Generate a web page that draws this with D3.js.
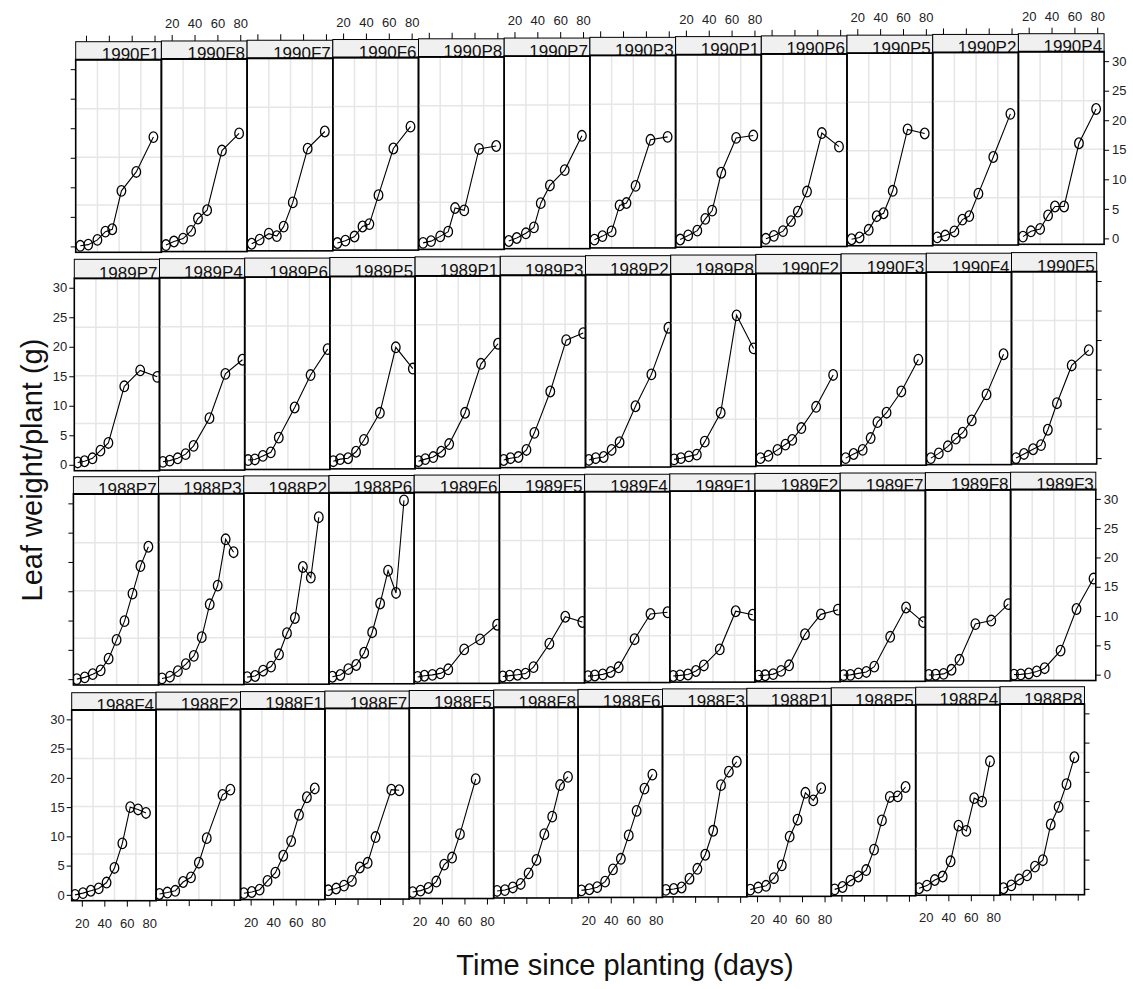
<!DOCTYPE html>
<html>
<head>
<meta charset="utf-8">
<script src="https://cdn.jsdelivr.net/npm/d3@7"></script>
<style>
  body { margin: 0; background: #fff; }
  svg { display: block; font-family: "Liberation Sans", Arial, sans-serif; }
</style>
</head>
<body>
<script>
// plots in display order, top row first
var plots = [
  "1990F1","1990F8","1990F7","1990F6","1990P8","1990P7","1990P3","1990P1","1990P6","1990P5","1990P2","1990P4",
  "1989P7","1989P4","1989P6","1989P5","1989P1","1989P3","1989P2","1989P8","1990F2","1990F3","1990F4","1990F5",
  "1988P7","1988P3","1988P2","1988P6","1989F6","1989F5","1989F4","1989F1","1989F2","1989F7","1989F8","1989F3",
  "1988F4","1988F2","1988F1","1988F7","1988F5","1988F8","1988F6","1988F3","1988P1","1988P5","1988P4","1988P8"
];

var times1988 = [14, 21, 28, 35, 42, 49, 56, 63, 70, 77];
var times1989 = [14, 20, 27, 34, 41, 55, 69, 84];
var times1990 = [15, 22, 30, 37, 43, 51, 64, 79];

// leaf weight/plant (g), one list per plot, same order as plots (null = not sampled)
var leafWeight = [
  [0.1, 0.3, 1.1, 2.5, 2.9, 9.4, 12.6, 18.5],
  [0.1, 0.7, 1.2, 2.5, 4.6, 6.0, 16.1, 19.0],
  [0.2, 0.9, 1.9, 1.5, 3.1, 7.2, 16.3, 19.2],
  [0.2, 0.6, 1.3, 3.0, 3.4, 8.3, 16.2, 19.9],
  [0.1, 0.4, 1.2, 2.0, 6.0, 5.6, 16.0, 16.5],
  [0.3, 0.8, 1.6, 2.6, 6.7, 9.7, 12.3, 18.1],
  [0.4, 1.0, 1.8, 6.2, 6.6, 9.5, 17.3, 17.8],
  [0.3, 1.0, 1.8, 3.8, 5.2, 11.6, 17.5, 17.9],
  [0.3, 0.8, 1.6, 3.3, 4.9, 8.3, 18.2, 15.9],
  [0.1, 0.4, 1.7, 4.0, 4.5, 8.3, 18.7, 18.0],
  [0.3, 0.6, 1.3, 3.3, 3.9, 7.7, 13.9, 21.2],
  [0.3, 1.2, 1.6, 3.9, 5.4, 5.4, 16.1, 21.9],

  [0.4, 0.6, 1.1, 2.4, 3.7, 13.3, 16.0, 14.9],
  [0.4, 0.6, 1.0, 1.7, 3.1, 7.8, 15.3, 17.7],
  [0.6, 0.7, 1.3, 1.9, 4.4, 9.5, 15.0, 19.4],
  [0.3, 0.65, 0.8, 1.9, 3.9, 8.5, 19.6, 16.0],
  [0.2, 0.55, 0.9, 1.8, 3.1, 8.4, 16.7, 20.1],
  [0.3, 0.6, 0.8, 2.0, 4.9, 11.9, 20.6, 21.8],
  [0.2, 0.5, 0.7, 1.9, 3.2, 9.3, 14.7, 22.6],
  [0.2, 0.4, 0.7, 1.0, 3.2, 8.1, 24.6, 19.0],
  [0.3, 0.7, 1.7, 2.6, 3.4, 5.4, 9.0, 14.4],
  [0.2, 0.9, 1.6, 3.6, 6.3, 7.9, 11.5, 16.9],
  [0.1, 0.9, 2.1, 3.4, 4.4, 6.5, 10.9, 17.7],
  [0.0, 0.7, 1.5, 2.2, 4.8, 9.3, 15.7, 18.3],

  [0.0, 0.3, 0.85, 1.5, 3.5, 6.7, 9.9, 14.6, 19.3, 22.6],
  [0.05, 0.35, 1.3, 2.5, 3.9, 7.1, 12.7, 15.9, 23.8, 21.6],
  [0.2, 0.4, 1.3, 2.0, 4.1, 7.7, 10.3, 19.0, 17.2, 27.5],
  [0.2, 0.5, 1.5, 2.2, 4.3, 7.8, 12.7, 18.3, 14.5, 30.3],
  [0.1, 0.3, 0.45, 0.7, 1.4, 4.8, 6.5, 9.0],
  [0.1, 0.25, 0.4, 0.6, 1.7, 5.7, 10.3, 9.4],
  [0.1, 0.2, 0.4, 0.8, 1.6, 6.4, 10.7, 11.0],
  [0.05, 0.15, 0.3, 0.9, 1.85, 4.6, 11.1, 10.5],
  [0.05, 0.1, 0.3, 0.85, 1.8, 7.1, 10.5, 11.3],
  [0.05, 0.1, 0.35, 0.6, 1.5, 6.6, 11.6, 9.1],
  [0.02, 0.05, 0.2, 0.9, 2.6, 8.7, 9.3, 12.1],
  [0.0, 0.05, 0.2, 0.55, 1.1, 4.1, 11.2, 16.4],

  [0.0, 0.3, 0.7, 1.1, 2.1, 4.6, 8.8, 15.0, 14.6, 14.0],
  [0.05, 0.3, 0.6, 2.1, 2.9, 5.4, 9.6, null, 17.0, 17.9],
  [0.1, 0.3, 0.7, 2.2, 3.6, 6.5, 9.0, 13.5, 16.5, 18.0],
  [0.5, 0.8, 1.3, 2.1, 4.4, 5.2, 9.6, null, 17.7, 17.6],
  [0.1, 0.35, 0.8, 1.9, 4.8, 6.0, 10.0, null, 19.4, null],
  [0.2, 0.35, 0.8, 1.4, 3.2, 5.5, 9.9, 12.9, 18.3, 19.7],
  [0.2, 0.4, 0.75, 1.7, 3.8, 5.6, 9.6, 13.8, 17.6, 20.0],
  [0.2, 0.35, 0.6, 2.1, 3.8, 6.2, 10.3, 18.1, 20.4, 22.1],
  [0.15, 0.5, 0.8, 2.1, 4.3, 9.2, 12.1, 16.7, 15.4, 17.5],
  [0.1, 0.5, 1.6, 2.3, 3.4, 6.9, 11.9, 15.9, 16.0, 17.6],
  [0.2, 0.65, 1.6, 2.2, 4.8, 10.9, 10.0, 15.6, 15.0, 21.9],
  [0.1, 0.6, 1.6, 2.3, 3.8, 4.9, 11.0, 14.0, 17.9, 22.5]
];

var xTicks = [20, 40, 60, 80];
var yTicks = [0, 5, 10, 15, 20, 25, 30];
var xGrid = [30, 49, 68];
var yGrid = [7, 15.1, 23.3];

var width = 1133, height = 989, ncol = 12;

// each row of panels drifts a little, so keep its own geometry
var rows = [
  {left: 75.7, pw: 85.7, stripTop: 41.7, plotTop: 59.7, plotBottom: 252.3, tilt: -8},
  {left: 74.3, pw: 85.2, stripTop: 259.3, plotTop: 278.3, plotBottom: 470.7, tilt: -6.7},
  {left: 73.4, pw: 85.2, stripTop: 476.7, plotTop: 494, plotBottom: 685, tilt: -4.5},
  {left: 71.7, pw: 84.4, stripTop: 692.7, plotTop: 710, plotBottom: 900.7, tilt: -6}
];

var x = d3.scaleLinear().domain([11, 86]);
var y = d3.scaleLinear().domain([-1, 31.6]);

var svg = d3.select("body").append("svg")
    .attr("width", width)
    .attr("height", height);

function styleAxis(g) {
  g.select(".domain").remove();
  g.attr("font-size", 13).attr("font-family", null);
  g.selectAll("line").attr("stroke", "#000").attr("stroke-width", 1);
  g.selectAll("text").attr("fill", "#222");
}

plots.forEach(function(name, k) {
  var r = Math.floor(k / ncol), c = k % ncol, geo = rows[r];
  var dy = geo.tilt * c / (ncol - 1);
  var x0 = geo.left + c * geo.pw, x1 = x0 + geo.pw;
  var top = geo.plotTop + dy, bottom = geo.plotBottom + dy, sTop = geo.stripTop + dy;

  var xs = x.copy().range([x0, x1]);
  var ys = y.copy().range([bottom, top]);

  var year = name.slice(0, 4);
  var times = year === "1988" ? times1988 : (year === "1989" ? times1989 : times1990);
  var pts = times.map(function(t, i) { return {t: t, w: leafWeight[k][i]}; })
                 .filter(function(d) { return d.w != null; });

  var panel = svg.append("g").attr("class", "panel");

  svg.append("clipPath").attr("id", "clip" + k)
    .append("rect").attr("x", x0).attr("y", top).attr("width", x1 - x0).attr("height", bottom - top);
  svg.append("clipPath").attr("id", "sclip" + k)
    .append("rect").attr("x", x0).attr("y", sTop).attr("width", x1 - x0).attr("height", top - sTop);

  var inner = panel.append("g").attr("clip-path", "url(#clip" + k + ")");

  inner.selectAll(".vg").data(xGrid).enter().append("line")
      .attr("x1", xs).attr("x2", xs).attr("y1", top).attr("y2", bottom)
      .attr("stroke", "#e6e6e6").attr("stroke-width", 1.5);
  inner.selectAll(".hg").data(yGrid).enter().append("line")
      .attr("y1", ys).attr("y2", ys).attr("x1", x0).attr("x2", x1)
      .attr("stroke", "#e6e6e6").attr("stroke-width", 1.5);

  var line = d3.line().x(function(d) { return xs(d.t); }).y(function(d) { return ys(d.w); });
  inner.append("path").datum(pts)
      .attr("d", line)
      .attr("fill", "none").attr("stroke", "#000").attr("stroke-width", 1.1);

  inner.selectAll("ellipse").data(pts).enter().append("ellipse")
      .attr("cx", function(d) { return xs(d.t); })
      .attr("cy", function(d) { return ys(d.w); })
      .attr("rx", 4.3).attr("ry", 5.3)
      .attr("fill", "none").attr("stroke", "#000").attr("stroke-width", 1.3);

  panel.append("rect")
      .attr("x", x0).attr("y", top).attr("width", x1 - x0).attr("height", bottom - top)
      .attr("fill", "none").attr("stroke", "#000").attr("stroke-width", 1.6);

  // strip
  panel.append("rect")
      .attr("x", x0).attr("y", sTop).attr("width", x1 - x0).attr("height", top - sTop)
      .attr("fill", "#f0f0f0").attr("stroke", "#000").attr("stroke-width", 1);
  panel.append("g").attr("clip-path", "url(#sclip" + k + ")")
    .append("text")
      .attr("x", x1 - 2).attr("y", top + 0.5)
      .attr("text-anchor", "end")
      .attr("font-size", 17)
      .attr("fill", "#111")
      .text(name);
  panel.append("line")
      .attr("x1", x0).attr("x2", x1).attr("y1", top).attr("y2", top)
      .attr("stroke", "#000").attr("stroke-width", 1.8);

  // alternating axes, lattice style
  if (r === 0) {
    panel.append("g").attr("transform", "translate(0," + sTop + ")")
      .call(d3.axisTop(xs).tickValues(xTicks).tickSize(6).tickPadding(7)
        .tickFormat(c % 2 === 1 ? d3.format("d") : function() { return ""; }))
      .call(styleAxis);
  }
  if (r === rows.length - 1) {
    panel.append("g").attr("transform", "translate(0," + bottom + ")")
      .call(d3.axisBottom(xs).tickValues(xTicks).tickSize(6).tickPadding(12)
        .tickFormat(c % 2 === 0 ? d3.format("d") : function() { return ""; }))
      .call(styleAxis);
  }
  if (c === 0) {
    panel.append("g").attr("transform", "translate(" + x0 + ",0)")
      .call(d3.axisLeft(ys).tickValues(yTicks).tickSize(5).tickPadding(2)
        .tickFormat(r % 2 === 1 ? d3.format("d") : function() { return ""; }))
      .call(styleAxis);
  }
  if (c === ncol - 1) {
    panel.append("g").attr("transform", "translate(" + x1 + ",0)")
      .call(d3.axisRight(ys).tickValues(yTicks).tickSize(5).tickPadding(3)
        .tickFormat(r % 2 === 0 ? d3.format("d") : function() { return ""; }))
      .call(styleAxis);
  }
});

svg.append("text")
    .attr("transform", "translate(42,470) rotate(-90)")
    .attr("text-anchor", "middle")
    .attr("font-size", 29)
    .attr("fill", "#111")
    .text("Leaf weight/plant (g)");

svg.append("text")
    .attr("x", 625).attr("y", 975)
    .attr("text-anchor", "middle")
    .attr("font-size", 29)
    .attr("fill", "#111")
    .text("Time since planting (days)");
</script>
</body>
</html>
